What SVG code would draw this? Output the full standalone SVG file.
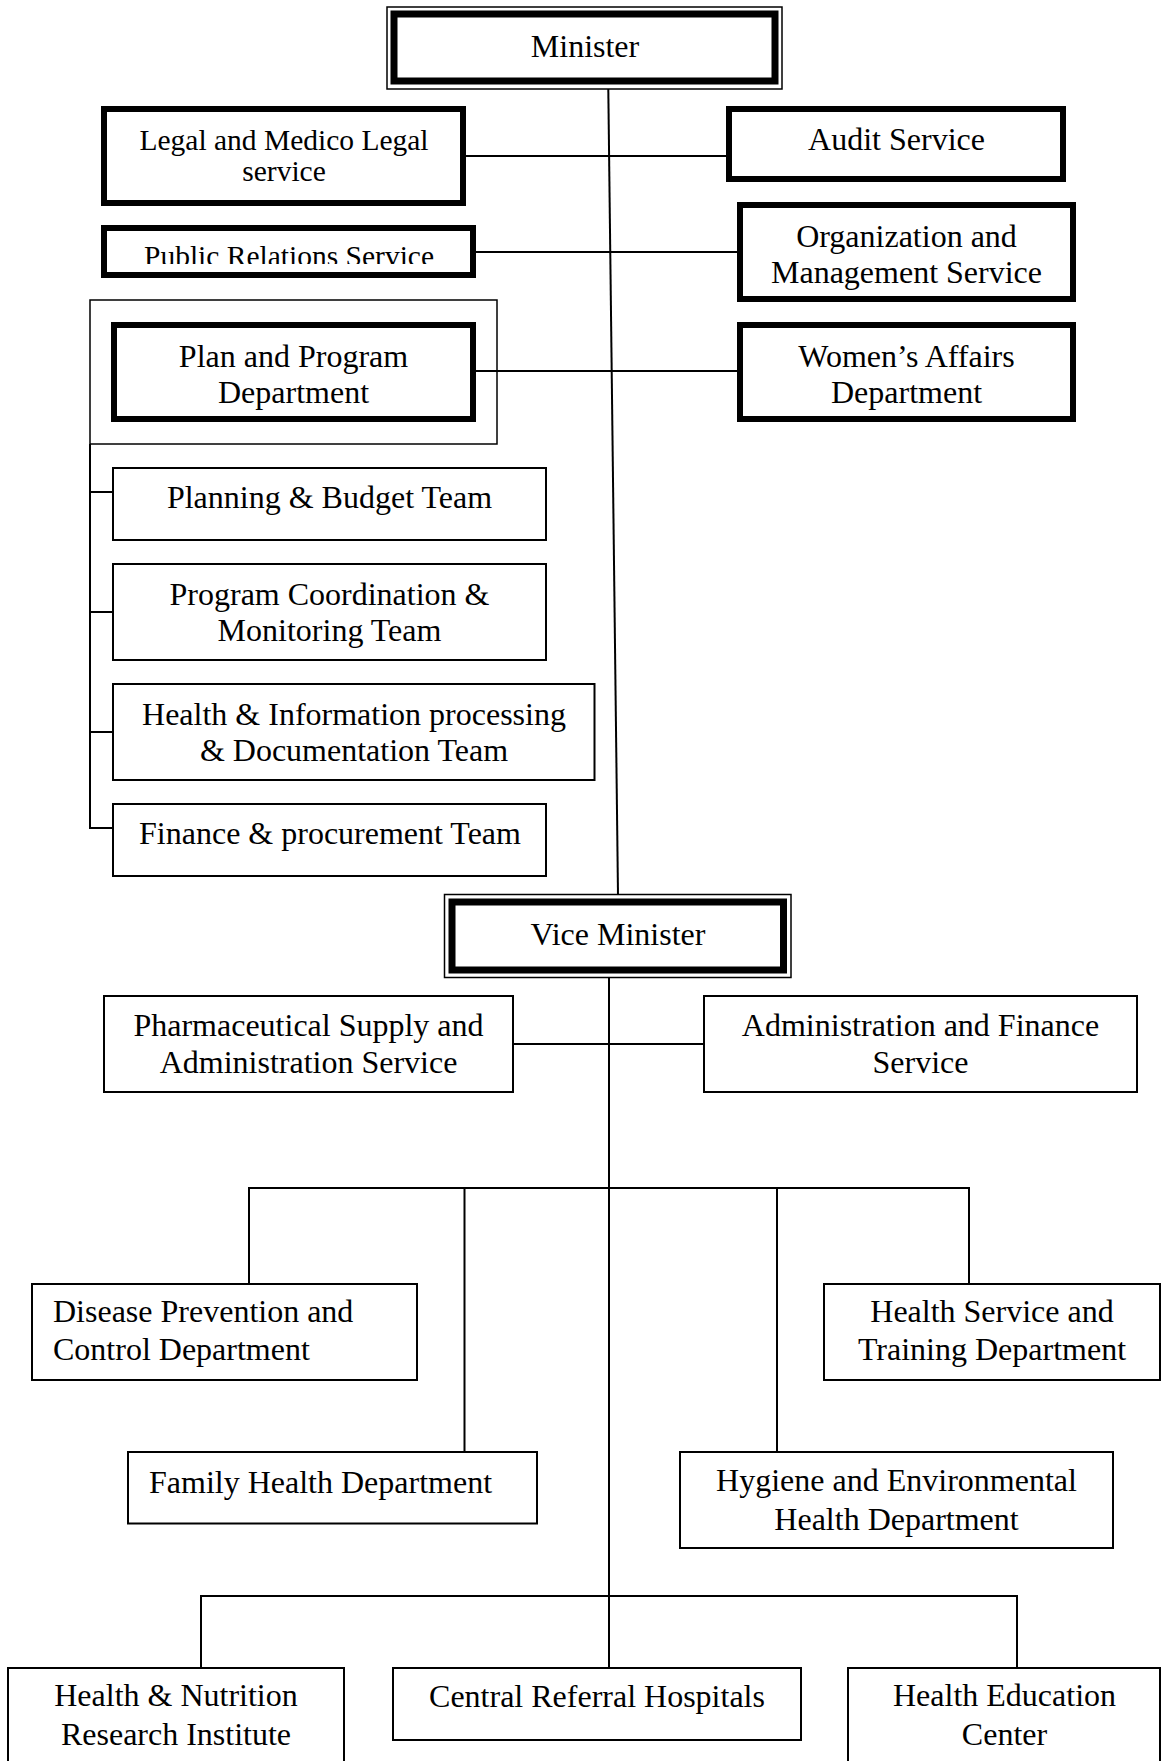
<svg xmlns="http://www.w3.org/2000/svg" width="1161" height="1761" viewBox="0 0 1161 1761">
<style>
text{font-family:"Liberation Serif","Times New Roman",serif;font-size:32px;fill:#000}
.c{text-anchor:middle}
.s{font-size:29.5px}
.thick{fill:#fff;stroke:#000;stroke-width:6}
.thin{fill:#fff;stroke:#000;stroke-width:2}
.dbl{fill:none;stroke:#000;stroke-width:1.5}
.dblk{fill:#fff;stroke:#000;stroke-width:7}
.grp{fill:none;stroke:#000;stroke-width:1.5}
.ln{fill:none;stroke:#000;stroke-width:2}
</style>
<defs>
<clipPath id="prclip"><rect x="104" y="228" width="369" height="36"/></clipPath>
</defs>
<rect width="1161" height="1761" fill="#fff"/>
<g id="connectors">
<line class="ln" x1="608.3" y1="89" x2="618" y2="895"/>
<line class="ln" x1="609" y1="977" x2="609" y2="1668"/>
<line class="ln" x1="466" y1="156" x2="726" y2="156"/>
<line class="ln" x1="476" y1="252" x2="737" y2="252"/>
<line class="ln" x1="476" y1="371" x2="737" y2="371"/>
<polyline class="ln" points="90,444 90,828 113,828"/>
<line class="ln" x1="90" y1="492" x2="113" y2="492"/>
<line class="ln" x1="90" y1="612" x2="113" y2="612"/>
<line class="ln" x1="90" y1="732" x2="113" y2="732"/>
<line class="ln" x1="513" y1="1044" x2="704" y2="1044"/>
<polyline class="ln" points="249,1284 249,1188 969,1188 969,1284"/>
<line class="ln" x1="464.5" y1="1188" x2="464.5" y2="1452"/>
<line class="ln" x1="777" y1="1188" x2="777" y2="1452"/>
<polyline class="ln" points="201,1668 201,1596 1017,1596 1017,1668"/>
</g>
<g id="minister">
<rect class="dbl" x="387" y="7" width="395" height="82"/>
<rect class="dblk" x="394" y="14" width="381" height="67"/>
<text class="c" x="585" y="57">Minister</text>
</g>
<g id="legal">
<rect class="thick" x="104" y="109" width="359" height="94"/>
<text class="c s" x="284" y="150">Legal and Medico Legal</text>
<text class="c s" x="284" y="181">service</text>
</g>
<g id="audit">
<rect class="thick" x="729" y="109" width="334" height="70"/>
<text class="c" x="896.5" y="150">Audit Service</text>
</g>
<g id="public-relations">
<rect class="thick" x="104" y="228" width="369" height="47"/>
<text class="c s" x="289" y="266" clip-path="url(#prclip)">Public Relations Service</text>
</g>
<g id="org-management">
<rect class="thick" x="740" y="205" width="333" height="94"/>
<text class="c" x="906.5" y="247">Organization and</text>
<text class="c" x="906.5" y="283">Management Service</text>
</g>
<g id="plan-group">
<rect class="grp" x="90" y="300" width="407" height="144"/>
</g>
<g id="plan-program">
<rect class="thick" x="114" y="325" width="359" height="94"/>
<text class="c" x="293.5" y="367">Plan and Program</text>
<text class="c" x="293.5" y="403">Department</text>
</g>
<g id="womens-affairs">
<rect class="thick" x="740" y="325" width="333" height="94"/>
<text class="c" x="906.5" y="367">Women’s Affairs</text>
<text class="c" x="906.5" y="403">Department</text>
</g>
<g id="planning-budget">
<rect class="thin" x="113" y="468" width="433" height="72"/>
<text class="c" x="329.5" y="508">Planning &amp; Budget Team</text>
</g>
<g id="program-coordination">
<rect class="thin" x="113" y="564" width="433" height="96"/>
<text class="c" x="329.5" y="605">Program Coordination &amp;</text>
<text class="c" x="329.5" y="641">Monitoring Team</text>
</g>
<g id="health-information">
<rect class="thin" x="113" y="684" width="481.5" height="96"/>
<text class="c" x="354" y="725">Health &amp; Information processing</text>
<text class="c" x="354" y="761">&amp; Documentation Team</text>
</g>
<g id="finance-procurement">
<rect class="thin" x="113" y="804" width="433" height="72"/>
<text class="c" x="330" y="844">Finance &amp; procurement Team</text>
</g>
<g id="vice-minister">
<rect class="dbl" x="444.5" y="894.5" width="346.5" height="83"/>
<rect class="dblk" x="452" y="902" width="331.5" height="68"/>
<text class="c" x="618" y="945">Vice Minister</text>
</g>
<g id="pharmaceutical">
<rect class="thin" x="104" y="996" width="409" height="96"/>
<text class="c" x="308.5" y="1036">Pharmaceutical Supply and</text>
<text class="c" x="308.5" y="1073">Administration Service</text>
</g>
<g id="admin-finance">
<rect class="thin" x="704" y="996" width="433" height="96"/>
<text class="c" x="920.5" y="1036">Administration and Finance</text>
<text class="c" x="920.5" y="1073">Service</text>
</g>
<g id="disease-prevention">
<rect class="thin" x="32" y="1284" width="385" height="96"/>
<text x="53" y="1322">Disease Prevention and</text>
<text x="53" y="1360">Control Department</text>
</g>
<g id="health-service-training">
<rect class="thin" x="824" y="1284" width="336" height="96"/>
<text class="c" x="992" y="1322">Health Service and</text>
<text class="c" x="992" y="1360">Training Department</text>
</g>
<g id="family-health">
<rect class="thin" x="128" y="1452" width="409" height="71.5"/>
<text x="149" y="1493">Family Health Department</text>
</g>
<g id="hygiene-environmental">
<rect class="thin" x="680" y="1452" width="433" height="96"/>
<text class="c" x="896.5" y="1491">Hygiene and Environmental</text>
<text class="c" x="896.5" y="1530">Health Department</text>
</g>
<g id="health-nutrition">
<rect class="thin" x="8" y="1668" width="336" height="110"/>
<text class="c" x="176" y="1706">Health &amp; Nutrition</text>
<text class="c" x="176" y="1745">Research Institute</text>
</g>
<g id="central-referral">
<rect class="thin" x="393" y="1668" width="408" height="72"/>
<text class="c" x="597" y="1707">Central Referral Hospitals</text>
</g>
<g id="health-education">
<rect class="thin" x="848" y="1668" width="312" height="110"/>
<text class="c" x="1004.5" y="1706">Health Education</text>
<text class="c" x="1004.5" y="1745">Center</text>
</g>
</svg>
